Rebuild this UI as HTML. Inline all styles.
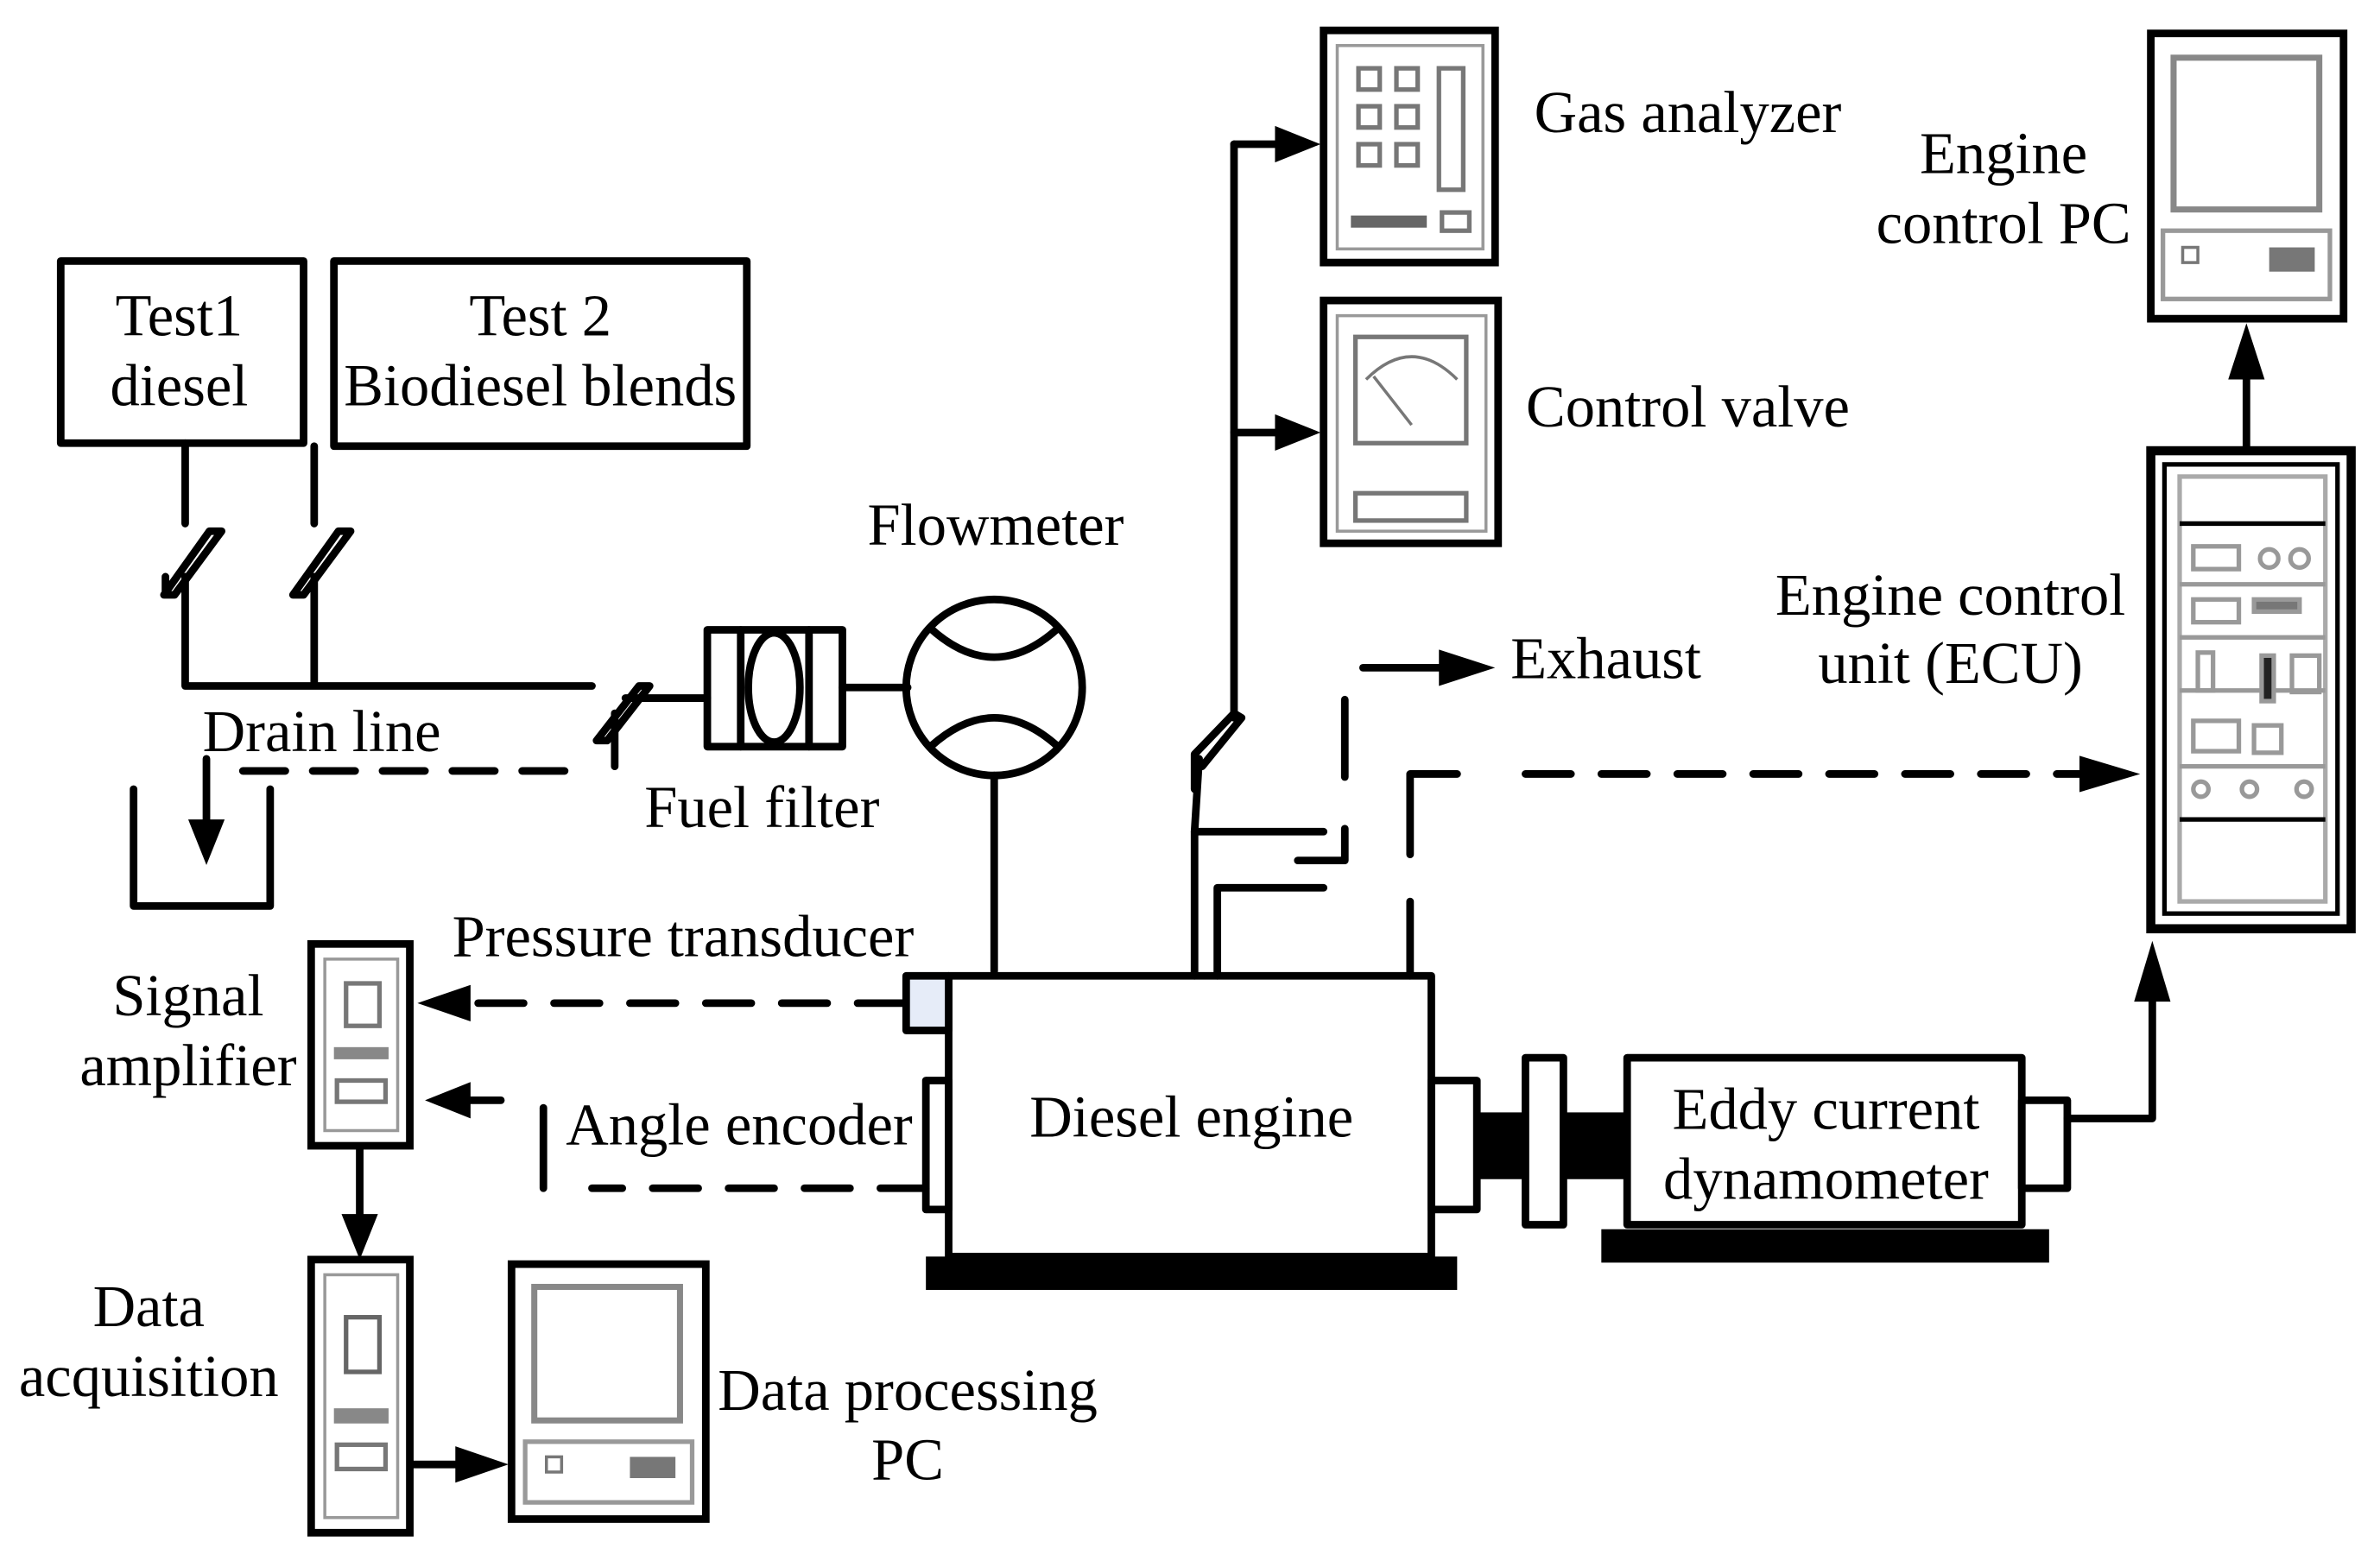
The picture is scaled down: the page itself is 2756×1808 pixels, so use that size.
<!DOCTYPE html>
<html><head><meta charset="utf-8"><style>
html,body{margin:0;padding:0;background:#fff;}
svg{display:block;}
text{font-family:"Liberation Serif",serif;font-size:39px;fill:#000;text-anchor:middle;}
</style></head><body>
<svg width="2756" height="1808" viewBox="0 0 1568 1028.6" xmlns="http://www.w3.org/2000/svg">
<g stroke="#000" stroke-width="5" fill="none" stroke-linecap="round" stroke-linejoin="round">
<rect x="40" y="172" width="160" height="120"/>
<rect x="220" y="172" width="272" height="122"/>
<path d="M122 292 V345 M207 294 V345"/>
<path d="M108 392 L138 350 L146 350 L115 392 Z M109 380 V392"/>
<path d="M193 392 L223 350 L231 350 L200 392 Z"/>
<path d="M122 380 V452 M207 380 V452 M122 452 H390"/>
<path d="M393 488 L421 452 L428 452 L400 488 Z"/>
<path d="M412 460 H466 M405 470 V505"/>
<rect x="466" y="415" width="89" height="77"/>
<path d="M488 415 V492 M533 415 V492"/>
<ellipse cx="510" cy="453" rx="17" ry="36"/>
<path d="M555 453 H598"/>
<circle cx="655" cy="453" r="58"/>
<path d="M613 414 Q655 452 697 414 M613 492 Q655 454 697 492"/>
<path d="M655 511 V640"/>
<path d="M160 508 H385" stroke-dasharray="28,18"/>
<path d="M88 520 V597 H178 V520"/>
<path d="M136 500 V540"/>
</g>
<path d="M124 540 L148 540 L136 570 Z" fill="#000"/>
<g stroke="#000" stroke-width="5" fill="none" stroke-linecap="round" stroke-linejoin="round">
<rect x="625" y="643" width="318" height="185"/>
<rect x="597" y="643" width="28" height="36" fill="#e6ecf8"/>
<rect x="610" y="712" width="15" height="85"/>
<rect x="943" y="712" width="30" height="85"/>
<path d="M595 661 H315" stroke-dasharray="30,20"/>
<path d="M610 783 H390" stroke-dasharray="30,20"/>
<path d="M358 730 V783"/>
<path d="M330 725 H305"/>
<path d="M787 643 V548 H872 M802 643 V585 H872"/>
<path d="M855 567 H886 V546"/>
<path d="M886 461 V512"/>
<path d="M813 95 V473 M790 500 L787 548"/>
<path d="M787 497 L787 520 M787 497 L813 470 L818 473 L792 505"/>
<path d="M813 95 H840 M813 285 H840"/>
<path d="M898 440 H950"/>
<path d="M929 643 V594 M929 563 V510 H960"/>
<path d="M1005 510 H1370" stroke-dasharray="30,20"/>
<rect x="1072" y="697" width="260" height="110"/>
<rect x="1332" y="725" width="30" height="58"/>
<path d="M1362 737 H1418 V660"/>
<rect x="1005" y="697" width="25" height="110"/>
<path d="M1480 297 V250"/>
<path d="M237 755 V800 M270 965 H300"/>
</g>
<rect x="610" y="828" width="350" height="22" fill="#000"/>
<rect x="1055" y="810" width="295" height="22" fill="#000"/>
<rect x="973" y="733" width="32" height="44" fill="#000"/>
<rect x="1030" y="733" width="42" height="44" fill="#000"/>
<g fill="#000">
<path d="M840 83 L870 95 L840 107 Z"/>
<path d="M840 273 L870 285 L840 297 Z"/>
<path d="M948 428 L985 440 L948 452 Z"/>
<path d="M1370 498 L1410 510 L1370 522 Z"/>
<path d="M1406 660 L1418 620 L1430 660 Z"/>
<path d="M1468 250 L1480 213 L1492 250 Z"/>
<path d="M310 649 L275 661 L310 673 Z"/>
<path d="M310 713 L280 725 L310 737 Z"/>
<path d="M225 800 L237 830 L249 800 Z"/>
<path d="M300 953 L335 965 L300 977 Z"/>
</g>
<g stroke="#000" fill="#fff">
<rect x="205" y="622" width="65" height="133" stroke-width="5"/>
<rect x="214" y="632" width="48" height="113" stroke="#999" stroke-width="2"/>
<rect x="228" y="648" width="22" height="28" stroke="#777" stroke-width="3"/>
<rect x="220" y="690" width="36" height="8" fill="#888" stroke="none"/>
<rect x="222" y="712" width="32" height="14" stroke="#777" stroke-width="3"/>
<rect x="205" y="830" width="65" height="180" stroke-width="5"/>
<rect x="214" y="840" width="48" height="160" stroke="#999" stroke-width="2"/>
<rect x="228" y="868" width="22" height="36" stroke="#666" stroke-width="3"/>
<rect x="220" y="928" width="36" height="10" fill="#888" stroke="none"/>
<rect x="222" y="952" width="32" height="16" stroke="#777" stroke-width="3"/>
<rect x="337" y="833" width="128" height="168" stroke-width="5"/>
<rect x="352" y="848" width="96" height="88" stroke="#888" stroke-width="4"/>
<rect x="346" y="950" width="110" height="40" stroke="#999" stroke-width="3"/>
<rect x="360" y="960" width="10" height="10" stroke="#777" stroke-width="2"/>
<rect x="415" y="960" width="30" height="14" fill="#777" stroke="none"/>
<rect x="872" y="20" width="113" height="153" stroke-width="5"/>
<rect x="881" y="30" width="96" height="134" stroke="#999" stroke-width="2"/>
<g stroke="#777" stroke-width="3">
<rect x="895" y="45" width="14" height="14"/><rect x="920" y="45" width="14" height="14"/>
<rect x="895" y="70" width="14" height="14"/><rect x="920" y="70" width="14" height="14"/>
<rect x="895" y="95" width="14" height="14"/><rect x="920" y="95" width="14" height="14"/>
<rect x="948" y="45" width="16" height="80"/>
<rect x="950" y="140" width="18" height="12"/>
</g>
<rect x="890" y="142" width="50" height="8" fill="#666" stroke="none"/>
<rect x="872" y="198" width="115" height="160" stroke-width="5"/>
<rect x="881" y="208" width="98" height="142" stroke="#999" stroke-width="2"/>
<rect x="893" y="222" width="73" height="70" stroke="#777" stroke-width="3"/>
<path d="M900 250 Q930 220 960 250" fill="none" stroke="#777" stroke-width="2"/>
<path d="M905 248 L930 280" stroke="#777" stroke-width="2"/>
<rect x="893" y="325" width="73" height="18" stroke="#777" stroke-width="3"/>
<rect x="1417" y="22" width="127" height="188" stroke-width="5"/>
<rect x="1432" y="38" width="96" height="100" stroke="#888" stroke-width="4"/>
<rect x="1425" y="152" width="110" height="45" stroke="#999" stroke-width="3"/>
<rect x="1438" y="163" width="10" height="10" stroke="#777" stroke-width="2"/>
<rect x="1495" y="163" width="30" height="16" fill="#777" stroke="none"/>
<rect x="1417" y="297" width="132" height="315" stroke-width="6"/>
<rect x="1426" y="306" width="114" height="296" stroke-width="3"/>
<rect x="1436" y="314" width="96" height="280" stroke="#aaa" stroke-width="3"/>
<path d="M1436 345 H1532 M1436 540 H1532" stroke-width="3"/>
<g stroke="#999" stroke-width="3" fill="none">
<path d="M1436 385 H1532 M1436 420 H1532 M1436 455 H1532 M1436 505 H1532"/>
<rect x="1445" y="360" width="30" height="15"/><circle cx="1495" cy="368" r="6"/><circle cx="1515" cy="368" r="6"/>
<rect x="1445" y="395" width="30" height="15"/><rect x="1485" y="395" width="30" height="8" fill="#777"/>
<rect x="1448" y="430" width="10" height="25"/><rect x="1490" y="432" width="8" height="30" fill="#222"/><rect x="1510" y="432" width="18" height="24"/>
<rect x="1445" y="475" width="30" height="20"/><rect x="1485" y="478" width="18" height="18"/>
<circle cx="1450" cy="520" r="5"/><circle cx="1482" cy="520" r="5"/><circle cx="1518" cy="520" r="5"/>
</g>
</g>
<text x="118" y="221">Test1</text>
<text x="118" y="267">diesel</text>
<text x="356" y="221">Test 2</text>
<text x="356" y="267">Biodiesel blends</text>
<text x="656" y="359">Flowmeter</text>
<text x="212" y="495">Drain line</text>
<text x="502" y="545">Fuel filter</text>
<text x="450" y="630">Pressure transducer</text>
<text x="124" y="669">Signal</text>
<text x="124" y="715">amplifier</text>
<text x="487" y="754">Angle encoder</text>
<text x="785" y="749">Diesel engine</text>
<text x="98" y="874">Data</text>
<text x="98" y="920">acquisition</text>
<text x="598" y="929">Data processing</text>
<text x="598" y="975">PC</text>
<text x="1112" y="87">Gas analyzer</text>
<text x="1112" y="281">Control valve</text>
<text x="1320" y="114">Engine</text>
<text x="1320" y="160">control PC</text>
<text x="1058" y="447">Exhaust</text>
<text x="1285" y="405">Engine control</text>
<text x="1285" y="450">unit (ECU)</text>
<text x="1203" y="744">Eddy current</text>
<text x="1203" y="790">dynamometer</text>
</svg>
</body></html>
